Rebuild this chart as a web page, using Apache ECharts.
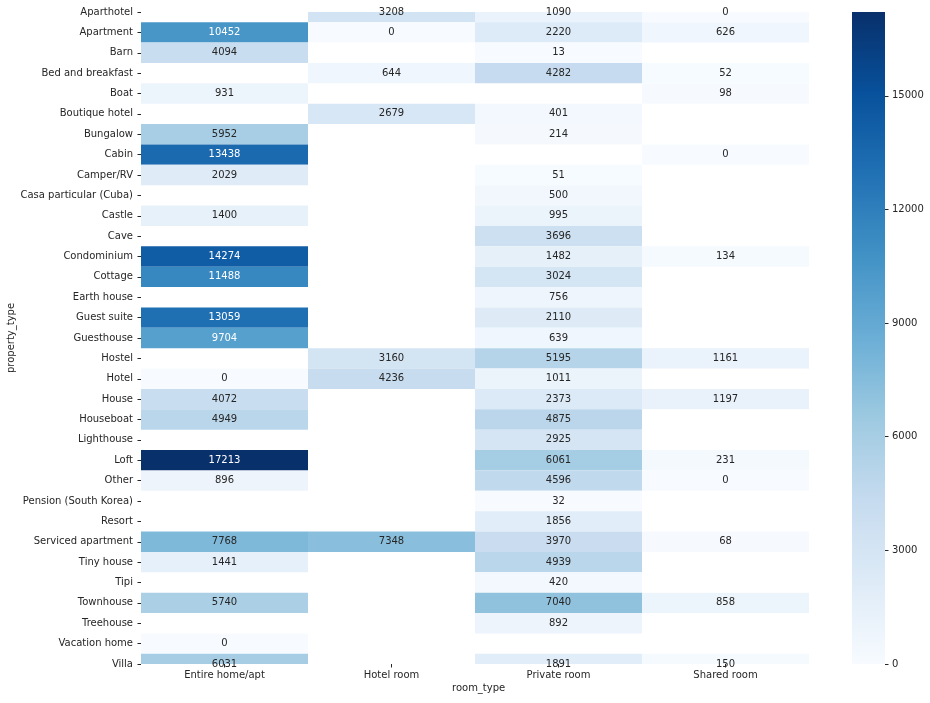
<!DOCTYPE html>
<html>
<head>
<meta charset="utf-8">
<script src="https://cdn.jsdelivr.net/npm/echarts@6/dist/echarts.min.js"></script>
<style>
html,body{margin:0;padding:0;background:#fff;}
#chart{width:930px;height:703px;}
</style>
</head>
<body>
<div id="chart"></div>
<script>
const propertyTypes = ["Aparthotel","Apartment","Barn","Bed and breakfast","Boat","Boutique hotel","Bungalow","Cabin","Camper/RV","Casa particular (Cuba)","Castle","Cave","Condominium","Cottage","Earth house","Guest suite","Guesthouse","Hostel","Hotel","House","Houseboat","Lighthouse","Loft","Other","Pension (South Korea)","Resort","Serviced apartment","Tiny house","Tipi","Townhouse","Treehouse","Vacation home","Villa"];
const roomTypes = ["Entire home/apt","Hotel room","Private room","Shared room"];
// null = no data (white)
const entireHome = [null,10452,4094,null,931,null,5952,13438,2029,null,1400,null,14274,11488,null,13059,9704,null,0,4072,4949,null,17213,896,null,null,7768,1441,null,5740,null,0,6031];
const hotelRoom  = [3208,0,null,644,null,2679,null,null,null,null,null,null,null,null,null,null,null,3160,4236,null,null,null,null,null,null,null,7348,null,null,null,null,null,null];
const privateRoom= [1090,2220,13,4282,null,401,214,null,51,500,995,3696,1482,3024,756,2110,639,5195,1011,2373,4875,2925,6061,4596,32,1856,3970,4939,420,7040,892,null,1891];
const sharedRoom = [0,626,null,52,98,null,null,0,null,null,null,null,134,null,null,null,null,1161,null,1197,null,null,231,0,null,null,68,null,null,858,null,null,150];
const colorbarTicks = [0,3000,6000,9000,12000,15000];
const blues = ['#f7fbff','#deebf7','#c6dbef','#9ecae1','#6baed6','#4292c6','#2171b5','#08519c','#08306b'];

const columns = [entireHome, hotelRoom, privateRoom, sharedRoom];
const cells = [];
columns.forEach((col, ci) => col.forEach((v, ri) => { if (v !== null) cells.push([ci, ri, v]); }));
const vmin = 0;
const vmax = Math.max(...cells.map(c => c[2]));

const FONT = '"DejaVu Sans", sans-serif';
const TXT = '#262626';

function lum(c) {
  const p = echarts.color.parse(c);
  const f = x => { x = x / 255; return x <= 0.03928 ? x / 12.92 : Math.pow((x + 0.055) / 1.055, 2.4); };
  return 0.2126 * f(p[0]) + 0.7152 * f(p[1]) + 0.0722 * f(p[2]);
}

const chart = echarts.init(document.getElementById('chart'), null, {renderer: 'canvas'});
chart.setOption({
  backgroundColor: '#fff',
  animation: false,
  textStyle: {fontFamily: FONT},
  grid: [
    {left: 141, top: 12, width: 668, height: 652, containLabel: false, outerBoundsMode: 'none'},
    {left: 852, top: 12, width: 33, height: 652, containLabel: false, outerBoundsMode: 'none'}
  ],
  xAxis: [
    {type: 'category', gridIndex: 0, data: roomTypes, position: 'bottom', boundaryGap: true,
     axisLine: {show: false, onZero: false}, splitLine: {show: false},
     axisTick: {show: true, alignWithLabel: true, length: 3.5, lineStyle: {color: TXT, width: 1}},
     axisLabel: {color: TXT, fontSize: 10, fontFamily: FONT, margin: 6}},
    {type: 'value', gridIndex: 1, min: 0, max: 1, show: false, axisLine: {onZero: false}}
  ],
  yAxis: [
    {type: 'value', gridIndex: 0, min: 0, max: propertyTypes.length - 1, interval: 1, inverse: true,
     position: 'left',
     axisLine: {show: false, onZero: false}, splitLine: {show: false},
     axisTick: {show: true, length: 3.5, lineStyle: {color: TXT, width: 1}},
     axisLabel: {color: TXT, fontSize: 10, fontFamily: FONT, margin: 8,
                 formatter: v => propertyTypes[Math.round(v)] || ''}},
    {type: 'value', gridIndex: 1, min: vmin, max: vmax, interval: 3000, position: 'right',
     axisLine: {show: false, onZero: false}, splitLine: {show: false},
     axisTick: {show: true, length: 3.5, lineStyle: {color: TXT, width: 1}},
     axisLabel: {color: TXT, fontSize: 10, fontFamily: FONT, margin: 7, showMaxLabel: false,
                 formatter: v => colorbarTicks.includes(v) ? String(v) : ''}}
  ],
  visualMap: {
    show: false, type: 'continuous', seriesIndex: 0, dimension: 2,
    min: vmin, max: vmax, inRange: {color: blues}
  },
  series: [
    {
      type: 'custom', xAxisIndex: 0, yAxisIndex: 0, data: cells,
      renderItem: function (params, api) {
        const ci = api.value(0), ri = api.value(1), v = api.value(2);
        const c = api.coord([ci, ri]);
        const w = api.size([1, 0])[0];
        const h = api.size([0, 1])[1];
        const cs = params.coordSys;
        const rect = echarts.graphic.clipRectByRect(
          {x: c[0] - w / 2, y: c[1] - h / 2, width: w, height: h},
          {x: cs.x, y: cs.y, width: cs.width, height: cs.height});
        const color = api.visual('color');
        const tcol = lum(color) > 0.408 ? TXT : '#ffffff';
        const children = [];
        if (rect) children.push({type: 'rect', shape: rect, style: {fill: color, stroke: null}});
        children.push({type: 'text', x: c[0], y: c[1], z2: 10,
          style: {text: String(v), fill: tcol, font: '10px ' + FONT, align: 'center', verticalAlign: 'middle'}});
        return {type: 'group', children: children};
      }
    },
    {
      type: 'custom', xAxisIndex: 1, yAxisIndex: 1, data: [[0, vmin, vmax]],
      renderItem: function (params, api) {
        const p0 = api.coord([0, api.value(1)]);
        const p1 = api.coord([1, api.value(2)]);
        const stops = blues.map((c, i) => ({offset: i / (blues.length - 1), color: c}));
        return {type: 'rect',
          shape: {x: p0[0], y: p1[1], width: p1[0] - p0[0], height: p0[1] - p1[1]},
          style: {fill: new echarts.graphic.LinearGradient(0, 1, 0, 0, stops)}};
      }
    }
  ],
  graphic: [
    {type: 'text', left: 452, top: 683, style: {text: 'room_type', fill: TXT, font: '10px ' + FONT}},
    {type: 'text', x: 11, y: 338, rotation: Math.PI / 2,
     style: {text: 'property_type', fill: TXT, font: '10px ' + FONT, align: 'center', verticalAlign: 'middle'}}
  ]
});
</script>
</body>
</html>
